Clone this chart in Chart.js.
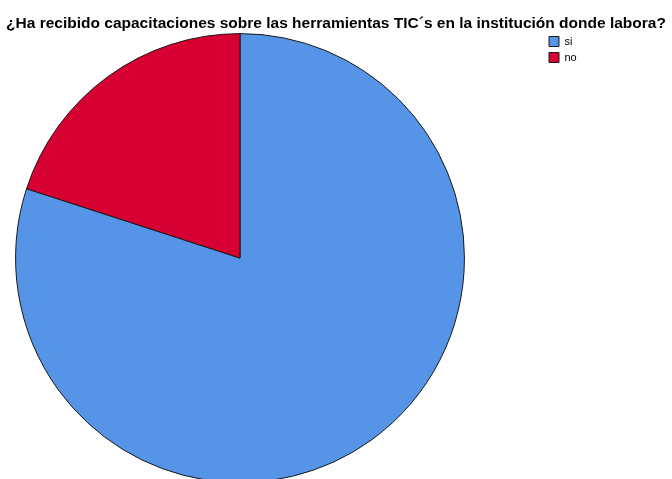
<!DOCTYPE html>
<html>
<head>
<meta charset="utf-8">
<script src="https://cdn.jsdelivr.net/npm/chart.js@4"></script>
<style>
  html, body { margin: 0; padding: 0; overflow: hidden; background: #fff; }
  .chart { position: relative; width: 672px; height: 500px; }
</style>
</head>
<body>
<div class="chart"><canvas id="MyChart"></canvas></div>
<script>
let labels = ['si', 'no'];
let values = [80, 20];
let colors = ['#5594e6', '#d60032'];
let title = '¿Ha recibido capacitaciones sobre las herramientas TIC´s en la institución donde labora?';

Chart.defaults.font.family = "'Liberation Sans', Arial, sans-serif";
Chart.defaults.color = '#000';

// pie sits on the left, legend in the top right corner
let placeBoxes = {
  id: 'placeBoxes',
  afterLayout(chart) {
    let area = chart.chartArea;
    area.left = 15;
    area.right = 465;
    area.width = area.right - area.left;

    let lg = chart.legend;
    let w = lg.width;
    let h = lg.height;
    lg.left = 544;
    lg.top = 31;
    lg.right = lg.left + w;
    lg.bottom = lg.top + h;
  }
};

let data = {
  labels: labels,
  datasets: [{
    data: values,
    backgroundColor: colors,
    borderColor: '#1a1a1a',
    borderWidth: 1,
    hoverOffset: 0
  }]
};

let options = {
  responsive: true,
  maintainAspectRatio: false,
  animation: false,
  layout: {
    padding: { left: 0, right: 0, top: 0, bottom: 17 }
  },
  plugins: {
    title: {
      display: true,
      text: title,
      font: { size: 15.5, weight: 'bold' },
      padding: { top: 14.5, bottom: 0 }
    },
    legend: {
      position: 'chartArea',
      align: 'start',
      labels: {
        boxWidth: 10,
        boxHeight: 10,
        padding: 5,
        font: { size: 11 }
      }
    },
    tooltip: { enabled: false }
  }
};

let myChart = new Chart(document.getElementById('MyChart'), {
  type: 'pie',
  data: data,
  options: options,
  plugins: [placeBoxes]
});
</script>
</body>
</html>
